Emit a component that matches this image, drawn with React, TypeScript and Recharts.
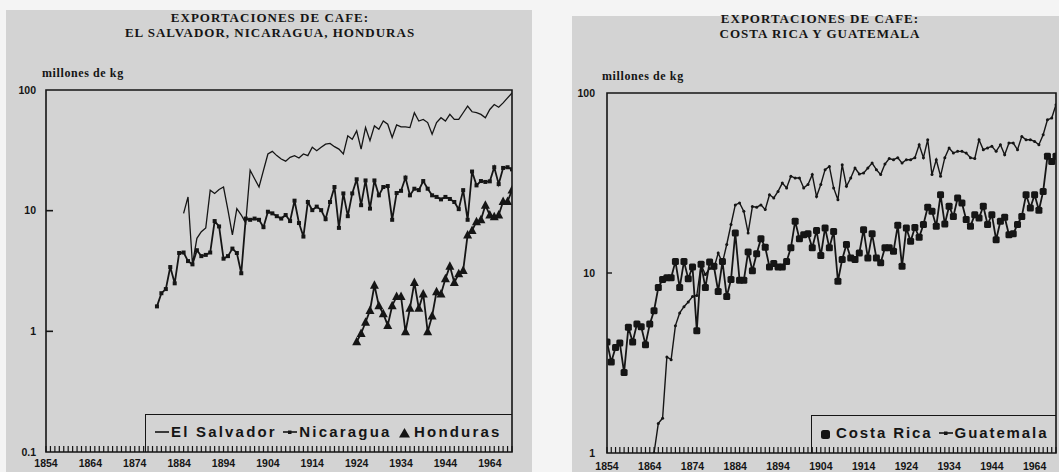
import React from 'react';
import { LineChart, Line, XAxis, YAxis, ReferenceArea, Legend } from 'recharts';

// ---------- categories / ticks ----------
const FIRST_YEAR = 1854;
const LAST_YEAR = 1959;
const decadeTicks = [1854, 1864, 1874, 1884, 1894, 1904, 1914, 1924, 1934, 1944, 1954];
const decadeLabels = ['1854', '1864', '1874', '1884', '1894', '1904', '1914', '1924', '1934', '1944', '1964'];
const leftYTicks = [0.1, 1, 10, 100];
const rightYTicks = [1, 10, 100];

// ---------- series (millones de kg) ----------
const salvadorStart = 1885;
const salvadorValues = [
  9.5, 13.0, 3.6, 5.9, 6.7,
  7.2, 14.8, 13.9, 15.0, 15.7, 10.1, 6.3, 10.4, 9.2, 7.9,
  21.6, 18.4, 15.7, 21.6, 29.5, 31, 28.6, 26.8, 25.7, 27.7,
  28.6, 27.3, 29.5, 28.6, 33.5, 31.4, 33.5, 35.6, 36.1, 33.9,
  32.4, 29.5, 41.7, 39.1, 45.8, 32.4, 48.8, 38, 50.4, 47.3,
  55.3, 52, 40.4, 51.3, 49.4, 49.4, 48.8, 64.8, 55.3, 57.1,
  53.7, 43, 53.7, 58.9, 55.3, 62.8, 57.1, 57.1, 64.8, 73.5,
  66, 64.8, 62.8, 58.9, 69, 75.8, 72, 78.2, 86, 94.5,
];

const nicaraguaStart = 1879;
const nicaraguaValues = [
  1.61,
  2.07, 2.24, 3.41, 2.5, 4.46, 4.5, 3.82, 3.59, 4.7, 4.2,
  4.3, 4.5, 8.2, 7.4, 4.0, 4.2, 4.85, 4.46, 3.03, 8.6,
  8.4, 8.6, 8.4, 7.3, 9.8, 9.5, 9.0, 8.6, 9.2, 8.2,
  12.1, 7.9, 6.1, 11.8, 10.1, 10.8, 10.1, 8.5, 11.8, 15.7,
  7.2, 13.9, 9.0, 13.9, 18.2, 11.1, 17.8, 10.4, 17.8, 13.4,
  15.7, 16.0, 8.4, 14.0, 14.6, 18.8, 13.4, 15.2, 14.8, 17.6,
  15.2, 13.4, 13.0, 12.4, 13.0, 12.5, 11.8, 10.3, 14.8, 8.4,
  21.1, 16.2, 17.6, 17.3, 17.5, 22.9, 16.6, 22.6, 22.9, 22,
];

const hondurasStart = 1924;
const hondurasValues = [
  0.82, 0.96, 1.19, 1.49, 2.41, 1.63,
  1.4, 1.12, 1.63, 1.94, 1.94, 0.99, 1.55, 2.54, 1.55, 2.04,
  0.99, 1.34, 2.13, 2.04, 2.73, 3.47, 2.54, 3.0, 3.2, 6.3,
  6.85, 8.1, 8.4, 11.1, 9.2, 8.9, 9.2, 11.9, 11.9, 14.8,
];

const costaRicaStart = 1854;
const costaRicaValues = [
  4.14, 3.2, 3.86, 4.08, 2.8, 4.99,
  4.14, 5.2, 5.03, 4.0, 5.2, 6.17, 8.3, 9.2, 9.4, 9.4,
  11.6, 8.3, 11.6, 9.3, 10.8, 4.78, 11.2, 8.3, 11.5, 10.9,
  7.9, 11.6, 7.4, 9.2, 16.7, 9.1, 9.1, 13.1, 10.3, 12.8,
  15.5, 13.9, 10.8, 11.3, 10.8, 10.8, 11.6, 13.8, 19.4, 15.5,
  16.3, 16.5, 13.8, 17.2, 12.5, 17.8, 13.8, 17.0, 9.0, 11.9,
  14.4, 12.1, 11.9, 12.9, 17.4, 12.1, 16.5, 12.1, 11.4, 13.8,
  13.8, 13.2, 18.4, 10.9, 17.8, 15.0, 17.9, 15.8, 18.6, 23.2,
  22, 18.2, 27.2, 18.7, 23.5, 20.6, 26.1, 24.5, 19.8, 18.2,
  21.1, 20.2, 23.5, 18.6, 21.1, 15.3, 19.4, 20.4, 16.3, 16.5,
  18.6, 20.6, 27.2, 23, 27.2, 22.3, 28.4, 44.5, 41.7, 44.5,
];

const guatemalaStart = 1865;
const guatemalaValues = [
  1.0, 1.46, 1.56, 3.42, 3.3,
  5.1, 6.0, 6.5, 6.9, 7.4, 7.5, 11.1, 9.8, 10.6, 10.6,
  12.9, 11.4, 14.4, 18.6, 23.9, 24.5, 22, 16.7, 23.4, 23.2,
  23.9, 22.5, 27.2, 26.1, 28.4, 31.6, 29.7, 34.5, 33.7, 33.7,
  29.7, 31, 35.2, 26.6, 31, 37.5, 39.1, 29.7, 25.5, 40,
  30.3, 33.7, 38.3, 35.5, 35.9, 38.3, 40.8, 37.5, 35.2, 40.3,
  43.2, 42.6, 43.7, 40.8, 42.6, 42.6, 43.7, 51.6, 43.7, 55,
  35.2, 42.6, 34.5, 43.7, 49.5, 46.4, 47.4, 47.4, 46.4, 43.7,
  43.2, 55, 48.4, 49.5, 50.6, 47.4, 51.6, 45.4, 52.7, 52.7,
  48.4, 57.4, 55, 55, 53.8, 51.6, 58.6, 71, 72.6, 86,
];

// ---------- helpers ----------
const yearTicks: number[] = [];
for (let y = FIRST_YEAR; y <= LAST_YEAR; y++) yearTicks.push(y);

type S = { key: string; start: number; values: number[] };
function buildRows(series: S[]) {
  return yearTicks.map((year) => {
    const row: Record<string, number> = { year };
    series.forEach((s) => {
      const i = year - s.start;
      if (i >= 0 && i < s.values.length) row[s.key] = s.values[i];
    });
    return row;
  });
}

const leftData = buildRows([
  { key: 'salvador', start: salvadorStart, values: salvadorValues },
  { key: 'nicaragua', start: nicaraguaStart, values: nicaraguaValues },
  { key: 'honduras', start: hondurasStart, values: hondurasValues },
]);
const rightData = buildRows([
  { key: 'costaRica', start: costaRicaStart, values: costaRicaValues },
  { key: 'guatemala', start: guatemalaStart, values: guatemalaValues },
]);

const INK = '#151515';
const PAPER = '#d3d3d3';

const ok = (p: any) => p && p.cx != null && p.cy != null && isFinite(p.cx) && isFinite(p.cy);

const smallSquare = (p: any) =>
  ok(p) ? <rect key={`n${p.index}`} x={p.cx - 2} y={p.cy - 2} width={4} height={4} fill={INK} /> : <g key={`n${p.index}`} />;
const triangle = (p: any) =>
  ok(p) ? (
    <path key={`h${p.index}`} d={`M${p.cx},${p.cy - 5} L${p.cx + 4.5},${p.cy + 3.5} L${p.cx - 4.5},${p.cy + 3.5} Z`} fill={INK} />
  ) : <g key={`h${p.index}`} />;
const bigSquare = (p: any) =>
  ok(p) ? <rect key={`c${p.index}`} x={p.cx - 3.5} y={p.cy - 3.5} width={7} height={7} rx={1.5} fill={INK} /> : <g key={`c${p.index}`} />;
const tinyDot = (p: any) =>
  ok(p) ? <circle key={`g${p.index}`} cx={p.cx} cy={p.cy} r={1.5} fill={INK} /> : <g key={`g${p.index}`} />;

const noLabel = () => <g />;

const tickFont = { fontSize: 10.5, fontWeight: 700, fill: INK, fontFamily: 'Liberation Sans, Arial, sans-serif' };

const legendText: React.CSSProperties = {
  fontFamily: 'Liberation Sans, Arial, sans-serif',
  fontWeight: 700,
  fontSize: 15,
  letterSpacing: 2.2,
  color: INK,
  whiteSpace: 'nowrap',
};

const LineSym = ({ dot }: { dot?: boolean }) => (
  <svg width={14} height={10} style={{ verticalAlign: 'middle', marginRight: 2 }}>
    <line x1={0} y1={4} x2={14} y2={4} stroke={INK} strokeWidth={1.6} />
    {dot && <rect x={5} y={2.5} width={3.5} height={3.5} fill={INK} />}
  </svg>
);
const TriSym = () => (
  <svg width={13} height={12} style={{ verticalAlign: 'middle', marginRight: 3 }}>
    <path d="M6.5,1 L12,10.5 L1,10.5 Z" fill={INK} />
  </svg>
);
const SqSym = () => (
  <svg width={12} height={12} style={{ verticalAlign: 'middle', marginRight: 4 }}>
    <rect x={1} y={2} width={9} height={9} rx={2.5} fill={INK} />
  </svg>
);

const boxStyle: React.CSSProperties = {
  ...legendText,
  width: '100%',
  height: '100%',
  boxSizing: 'border-box',
  borderTop: `1.5px solid ${INK}`,
  borderLeft: `1.5px solid ${INK}`,
  background: 'transparent',
  paddingTop: 8,
};

const LeftLegend = () => (
  <div style={{ ...boxStyle, paddingLeft: 9 }}>
    <LineSym />El Salvador <LineSym dot />Nicaragua <TriSym />Honduras
  </div>
);
const RightLegend = () => (
  <div style={{ ...boxStyle, letterSpacing: 1.9, paddingLeft: 8 }}>
    <SqSym />Costa Rica <LineSym dot />Guatemala
  </div>
);

const titleStyle: React.CSSProperties = {
  position: 'absolute',
  fontFamily: 'Liberation Serif, Times New Roman, serif',
  fontWeight: 700,
  fontSize: 13,
  letterSpacing: 1,
  lineHeight: '15px',
  textAlign: 'center',
  color: INK,
  width: 400,
};
const unitStyle: React.CSSProperties = {
  position: 'absolute',
  fontFamily: 'Liberation Serif, Times New Roman, serif',
  fontWeight: 700,
  fontSize: 12,
  letterSpacing: 0.6,
  color: INK,
  whiteSpace: 'nowrap',
};

export default function App() {
  return (
    <div style={{ position: 'absolute', left: 0, top: 0, width: 1059, height: 472, background: '#f4f4f4', overflow: 'hidden' }}>
      <div style={{ position: 'absolute', left: 6, top: 10, width: 526, height: 462, background: PAPER }} />
      <div style={{ position: 'absolute', left: 572, top: 16, width: 487, height: 456, background: PAPER }} />

      <div style={{ ...titleStyle, left: 70, top: 10 }}>
        EXPORTACIONES DE CAFE:<br />EL SALVADOR, NICARAGUA, HONDURAS
      </div>
      <div style={{ ...unitStyle, left: 42, top: 66 }}>millones de kg</div>

      <div style={{ ...titleStyle, left: 620, top: 11 }}>
        EXPORTACIONES DE CAFE:<br />COSTA RICA Y GUATEMALA
      </div>
      <div style={{ ...unitStyle, left: 602, top: 69 }}>millones de kg</div>

      {/* left chart */}
      <div style={{ position: 'absolute', left: 0, top: 0 }}>
        <LineChart width={530} height={472} data={leftData} margin={{ top: 90, right: 18, bottom: 0, left: 0 }}>
          <XAxis xAxisId="minor" dataKey="year" type="number" domain={[FIRST_YEAR, LAST_YEAR]} ticks={yearTicks} interval={0}
            tick={noLabel} mirror tickSize={6} axisLine={false} tickLine={{ stroke: INK, strokeWidth: 1.2 }} height={1} allowDataOverflow />
          <XAxis xAxisId="lab" dataKey="year" type="number" domain={[FIRST_YEAR, LAST_YEAR]} ticks={decadeTicks} interval={0}
            tickFormatter={(v: number) => decadeLabels[decadeTicks.indexOf(v)]} tickLine={false} axisLine={false}
            tickSize={4} tickMargin={4} height={20} tick={tickFont} allowDataOverflow />
          <YAxis yAxisId="inner" type="number" scale="log" domain={[0.1, 100]} ticks={[1, 10]} interval={0} mirror tick={noLabel}
            tickSize={7} axisLine={false} tickLine={{ stroke: INK, strokeWidth: 1.6 }} width={1} allowDataOverflow />
          <YAxis yAxisId="y" type="number" scale="log" domain={[0.1, 100]} ticks={leftYTicks} interval={0}
            tickFormatter={(v: number) => String(v)} tickLine={false} axisLine={false} tickSize={6} tickMargin={4}
            width={46} tick={tickFont} allowDataOverflow />
          <ReferenceArea xAxisId="lab" yAxisId="y" x1={FIRST_YEAR} x2={LAST_YEAR} y1={0.1} y2={100} fill="none" stroke={INK} strokeWidth={1.6} />
          <Line xAxisId="lab" yAxisId="y" dataKey="salvador" name="El Salvador" stroke={INK} strokeWidth={1.3} dot={false} isAnimationActive={false} />
          <Line xAxisId="lab" yAxisId="y" dataKey="nicaragua" name="Nicaragua" stroke={INK} strokeWidth={1.8} dot={smallSquare} isAnimationActive={false} />
          <Line xAxisId="lab" yAxisId="y" dataKey="honduras" name="Honduras" stroke={INK} strokeWidth={1.8} dot={triangle} isAnimationActive={false} />
          <Legend layout="vertical" align="center" verticalAlign="middle"
            wrapperStyle={{ left: 145, top: 414, width: 367, height: 38 }} content={() => <LeftLegend />} />
        </LineChart>
      </div>

      {/* right chart */}
      <div style={{ position: 'absolute', left: 540, top: 0 }}>
        <LineChart width={519} height={472} data={rightData} margin={{ top: 93, right: 3, bottom: 0, left: 0 }}>
          <XAxis xAxisId="minor" dataKey="year" type="number" domain={[FIRST_YEAR, LAST_YEAR]} ticks={yearTicks} interval={0}
            tick={noLabel} mirror tickSize={6} axisLine={false} tickLine={{ stroke: INK, strokeWidth: 1.2 }} height={1} allowDataOverflow />
          <XAxis xAxisId="lab" dataKey="year" type="number" domain={[FIRST_YEAR, LAST_YEAR]} ticks={decadeTicks} interval={0}
            tickFormatter={(v: number) => decadeLabels[decadeTicks.indexOf(v)]} tickLine={false} axisLine={false}
            tickSize={6} tickMargin={4} height={19} tick={tickFont} allowDataOverflow />
          <YAxis yAxisId="inner" type="number" scale="log" domain={[1, 100]} ticks={[10]} interval={0} mirror tick={noLabel}
            tickSize={5} axisLine={false} tickLine={{ stroke: INK, strokeWidth: 1.4 }} width={1} allowDataOverflow />
          <YAxis yAxisId="y" type="number" scale="log" domain={[1, 100]} ticks={rightYTicks} interval={0}
            tickFormatter={(v: number) => String(v)} tickLine={false} axisLine={false} tickSize={6} tickMargin={6}
            width={67} tick={tickFont} allowDataOverflow />
          <ReferenceArea xAxisId="lab" yAxisId="y" x1={FIRST_YEAR} x2={LAST_YEAR} y1={1} y2={100} fill="none" stroke={INK} strokeWidth={1.6} />
          <Line xAxisId="lab" yAxisId="y" dataKey="guatemala" name="Guatemala" stroke={INK} strokeWidth={1.4} dot={tinyDot} isAnimationActive={false} />
          <Line xAxisId="lab" yAxisId="y" dataKey="costaRica" name="Costa Rica" stroke={INK} strokeWidth={1.8} dot={bigSquare} isAnimationActive={false} />
          <Legend layout="vertical" align="center" verticalAlign="middle"
            wrapperStyle={{ left: 271, top: 415, width: 245, height: 38 }} content={() => <RightLegend />} />
        </LineChart>
      </div>
    </div>
  );
}
